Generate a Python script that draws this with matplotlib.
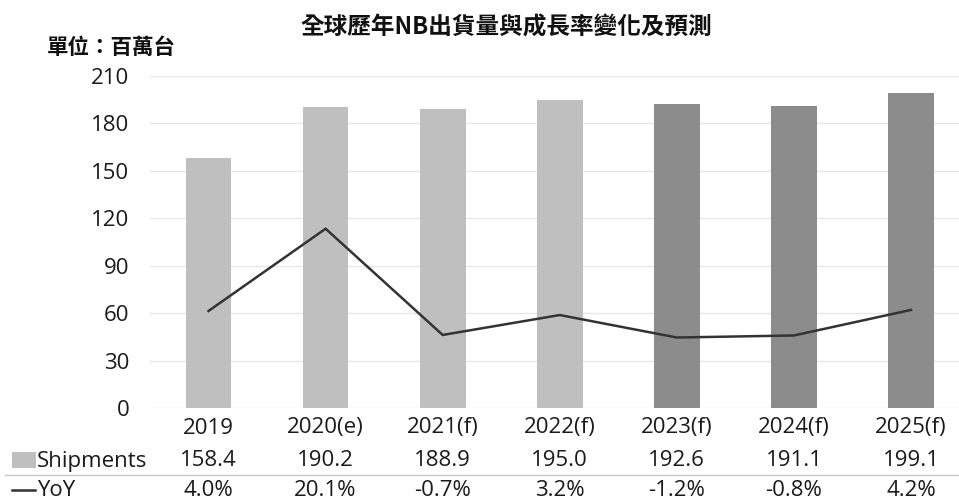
import numpy as np
import matplotlib.pyplot as plt
import matplotlib.transforms as mtransforms
from matplotlib.lines import Line2D
from matplotlib.patches import Rectangle

plt.rcParams['font.family'] = ['Open Sans', 'Noto Sans CJK TC', 'DejaVu Sans']

# data
years = ['2019', '2020(e)', '2021(f)', '2022(f)', '2023(f)', '2024(f)', '2025(f)']
shipments = [158.4, 190.2, 188.9, 195.0, 192.6, 191.1, 199.1]
yoy = [4.0, 20.1, -0.7, 3.2, -1.2, -0.8, 4.2]
forecast_dark = [False, False, False, False, True, True, True]

light = '#bfbfbf'
dark = '#8c8c8c'
line_col = '#333333'
txt = '#1a1a1a'
fs = 16

W, H = 959, 500
fig = plt.figure(figsize=(W / 100, H / 100), dpi=100)
ax = fig.add_axes([150 / W, (H - 408) / H, (W - 150) / W, (408 - 76) / H])

x = np.arange(len(years))
cols = [dark if d else light for d in forecast_dark]
ax.bar(x, shipments, width=0.39, color=cols, zorder=2)

ax.set_ylim(0, 210)
ax.set_yticks(np.arange(0, 211, 30))
ax.set_xlim(-0.5, 6.41)
ax.set_xticks([])
ax.tick_params(axis='y', length=0, labelsize=fs, pad=15, labelcolor=txt)
ax.grid(axis='y', color='#e6e6e6', lw=1, zorder=0)
for s in ax.spines.values():
    s.set_visible(False)

# YoY on hidden secondary axis
ax2 = ax.twinx()
ax2.plot(x, yoy, color=line_col, lw=1.8, zorder=3)
ax2.set_ylim(-15, 50)
ax2.axis('off')

# titles
fig.text(506 / W, 1 - 28 / H, '全球歷年NB出貨量與成長率變化及預測', ha='center', va='center',
         fontsize=17, fontweight='bold', color='#111111',
         family=['Noto Sans CJK TC', 'DejaVu Sans'])
fig.text(47 / W, 1 - 47 / H, '單位：百萬台', ha='left', va='center',
         fontsize=15.5, fontweight='bold', color='#111111',
         family=['Noto Sans CJK TC', 'DejaVu Sans'])

# data table
tr = mtransforms.blended_transform_factory(ax.transData, fig.transFigure)
for i in range(len(years)):
    ax.text(x[i], 1 - 428 / H, years[i], transform=tr, ha='center', va='center', fontsize=fs, color=txt)
    ax.text(x[i], 1 - 461 / H, f'{shipments[i]:.1f}', transform=tr, ha='center', va='center', fontsize=fs, color=txt)
    ax.text(x[i], 1 - 490 / H, f'{yoy[i]:.1f}%', transform=tr, ha='center', va='center', fontsize=fs, color=txt)

fig.add_artist(Rectangle((12 / W, 1 - 468 / H), 24 / W, 16 / H, transform=fig.transFigure,
                         facecolor=light, edgecolor='none'))
fig.text(37 / W, 1 - 461 / H, 'Shipments', ha='left', va='center', fontsize=fs, color=txt)
fig.add_artist(Line2D([12 / W, 35 / W], [1 - 490 / H, 1 - 490 / H], transform=fig.transFigure,
                      color=line_col, lw=1.8))
fig.text(37 / W, 1 - 490 / H, 'YoY', ha='left', va='center', fontsize=fs, color=txt)
fig.add_artist(Line2D([5 / W, 1], [1 - 475 / H, 1 - 475 / H], transform=fig.transFigure,
                      color='#c8c8c8', lw=1))

fig.savefig('out.png', dpi=100)
